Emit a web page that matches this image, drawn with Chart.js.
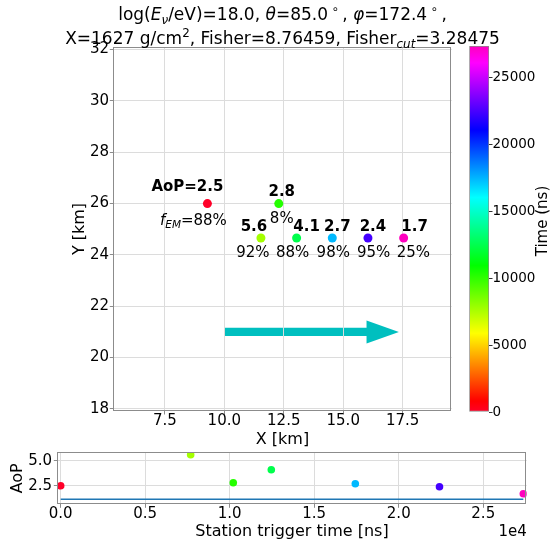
<!DOCTYPE html>
<html>
<head>
<meta charset="utf-8">
<script src="https://cdn.jsdelivr.net/npm/chart.js@4.4.0/dist/chart.umd.min.js"></script>
<style>
  html, body { margin:0; padding:0; background:#fff; }
  #wrap { position:relative; width:552px; height:545px; overflow:hidden; font-family:"DejaVu Sans", sans-serif; }
  canvas { position:absolute; left:0; top:0; }
  #title { position:absolute; left:0; top:3px; width:565px; text-align:center; font-size:17px; line-height:23.5px; color:#000; white-space:nowrap; }
  #title sub, #title sup { font-size:70%; line-height:0; }
</style>
</head>
<body>
<div id="wrap">
  <canvas id="main" width="552" height="545"></canvas>
  <canvas id="cbar" width="552" height="545"></canvas>
  <canvas id="aop" width="552" height="545"></canvas>
  <div id="title">log(<i>E</i><sub><i>ν</i></sub>/eV)=18.0, <i>θ</i>=85.0&thinsp;<sup>∘</sup>&thinsp;, <i>φ</i>=172.4&thinsp;<sup>∘</sup>&thinsp;,<br>X=1627 g/cm<sup>2</sup>, Fisher=8.76459, Fisher<sub><i>cut</i></sub>=3.28475</div>
</div>
<script>
// station data
const stationX = [9.29, 11.54, 12.29, 13.04, 14.54, 16.04, 17.54];
const stationY = [26.0, 24.66, 26.0, 24.66, 24.66, 24.66, 24.66];
const triggerTime = [0, 7690, 10210, 12460, 17430, 22410, 27370];
const aopValues = [2.5, 5.6, 2.8, 4.1, 2.7, 2.4, 1.7];
const emFraction = [88, 92, 8, 88, 98, 95, 25];
const aopThreshold = 1.15;
const arrowFrom = [10.0, 21.0];
const arrowTo = [17.34, 21.0];

const mainXTicks = [7.5, 10, 12.5, 15, 17.5];
const mainYTicks = [18, 20, 22, 24, 26, 28, 30, 32];
const colorTicks = [0, 5000, 10000, 15000, 20000, 25000];
const aopXTicks = [0, 5000, 10000, 15000, 20000, 25000];
const aopYTicks = [2.5, 5.0];

// label placement (pixel offsets of text centre from the point)
const aopLabelOffset = [[-20,-16],[-7,-10.5],[3,-11],[10,-10.5],[5,-10.5],[5,-10.5],[11,-10.5]];
const emLabelOffset = [[-14,18],[-8,15.5],[3,16],[-4,15.5],[1,15.5],[5.6,15.5],[9.7,15.5]];

const FONT = 'DejaVu Sans';
const tickFont = {family: FONT, size: 15};
const cbarFont = {family: FONT, size: 13.5};
const titleFont = {family: FONT, size: 16};
const gridColor = '#dcdcdc';
const spineColor = '#8c8c8c';

// matplotlib gist_rainbow
const rainbowStops = [
  [0.000, [255, 0, 41]], [0.030, [255, 0, 0]], [0.215, [255, 255, 0]],
  [0.400, [0, 255, 0]], [0.586, [0, 255, 255]], [0.770, [0, 0, 255]],
  [0.954, [255, 0, 255]], [1.000, [255, 0, 191]]
];
function rainbow(v) {
  v = Math.max(0, Math.min(1, v));
  for (let i = 1; i < rainbowStops.length; i++) {
    const [p1, c1] = rainbowStops[i];
    const [p0, c0] = rainbowStops[i - 1];
    if (v <= p1) {
      const f = (v - p0) / (p1 - p0);
      const c = c0.map((a, k) => Math.round(a + (c1[k] - a) * f));
      return 'rgb(' + c.join(',') + ')';
    }
  }
  return 'rgb(255,0,191)';
}
const tMin = Math.min(...triggerTime);
const tMax = Math.max(...triggerTime);
const pointColors = triggerTime.map(t => rainbow((t - tMin) / (tMax - tMin)));

const framePlugin = {
  id: 'frame',
  afterDatasetsDraw(chart) {
    const a = chart.chartArea, c = chart.ctx;
    c.save();
    c.strokeStyle = spineColor;
    c.lineWidth = 1;
    c.strokeRect(Math.round(a.left) + 0.5, Math.round(a.top) + 0.5,
      Math.round(a.right - a.left) - 1, Math.round(a.bottom - a.top) - 1);
    c.restore();
  }
};

const arrowPlugin = {
  id: 'arrow',
  beforeDraw(chart) {
    const xs = chart.scales.x, ys = chart.scales.y, c = chart.ctx;
    const x0 = xs.getPixelForValue(arrowFrom[0]);
    const x1 = xs.getPixelForValue(arrowTo[0]);
    const y0 = ys.getPixelForValue(arrowFrom[1]);
    const unitY = Math.abs(ys.getPixelForValue(1) - ys.getPixelForValue(0));
    const unitX = Math.abs(xs.getPixelForValue(1) - xs.getPixelForValue(0));
    const w = 0.32 * unitY / 2, hw = 0.9 * unitY / 2, hl = 1.36 * unitX;
    c.save();
    c.fillStyle = '#00bfbf';
    c.beginPath();
    c.moveTo(x0, y0 - w);
    c.lineTo(x1 - hl, y0 - w);
    c.lineTo(x1 - hl, y0 - hw);
    c.lineTo(x1, y0);
    c.lineTo(x1 - hl, y0 + hw);
    c.lineTo(x1 - hl, y0 + w);
    c.lineTo(x0, y0 + w);
    c.closePath();
    c.fill();
    c.restore();
  }
};

function drawRich(c, parts, cx, cy) {
  let total = 0;
  parts.forEach(p => { c.font = p.font; p.w = c.measureText(p.t).width; total += p.w; });
  let x = cx - total / 2;
  parts.forEach(p => { c.font = p.font; c.fillText(p.t, x, cy + (p.dy || 0)); x += p.w; });
}

const labelPlugin = {
  id: 'labels',
  afterDatasetsDraw(chart) {
    const xs = chart.scales.x, ys = chart.scales.y, c = chart.ctx;
    c.save();
    c.fillStyle = '#000';
    c.textBaseline = 'middle';
    c.textAlign = 'left';
    stationX.forEach((sx, i) => {
      const px = xs.getPixelForValue(sx), py = ys.getPixelForValue(stationY[i]);
      const a = aopLabelOffset[i], e = emLabelOffset[i];
      const aopText = (i === 0 ? 'AoP=' : '') + aopValues[i].toFixed(1);
      drawRich(c, [{t: aopText, font: 'bold 15px ' + FONT}], px + a[0], py + a[1]);
      if (i === 0) {
        drawRich(c, [
          {t: 'f', font: 'italic 15px ' + FONT},
          {t: 'EM', font: 'italic 10.5px ' + FONT, dy: 3.5},
          {t: '=' + emFraction[i] + '%', font: '15px ' + FONT}
        ], px + e[0], py + e[1]);
      } else {
        drawRich(c, [{t: emFraction[i] + '%', font: '15px ' + FONT}], px + e[0], py + e[1]);
      }
    });
    c.restore();
  }
};

new Chart(document.getElementById('main'), {
  type: 'scatter',
  data: {
    datasets: [{
      data: stationX.map((x, i) => ({x: x, y: stationY[i]})),
      pointBackgroundColor: pointColors,
      pointBorderWidth: 0,
      pointRadius: 4.5
    }]
  },
  options: {
    responsive: false,
    animation: false,
    devicePixelRatio: 1,
    layout: {padding: {left: 0, top: 47, right: 100.3, bottom: 94}},
    plugins: {legend: {display: false}, tooltip: {enabled: false}},
    scales: {
      x: {
        type: 'linear', min: 5.334, max: 19.56,
        afterFit(s) { s.height = 40; },
        afterBuildTicks(s) { s.ticks = mainXTicks.map(v => ({value: v})); },
        ticks: {font: tickFont, color: '#000', padding: -2.5, maxRotation: 0, callback: v => v.toFixed(1)},
        grid: {color: gridColor, tickColor: spineColor, tickLength: 3.5},
        border: {display: false},
        title: {display: true, text: 'X [km]', font: titleFont, color: '#000', padding: {top: 0, bottom: 1.6}}
      },
      y: {
        type: 'linear', min: 17.92, max: 32.1,
        afterFit(s) { s.width = 113.3; },
        afterBuildTicks(s) { s.ticks = mainYTicks.map(v => ({value: v})); },
        ticks: {font: tickFont, color: '#000', padding: 0.8, callback: v => String(v)},
        grid: {color: gridColor, tickColor: spineColor, tickLength: 3.5},
        border: {display: false},
        title: {display: true, text: 'Y [km]', font: titleFont, color: '#000', padding: {top: 70.4, bottom: 0}}
      }
    }
  },
  plugins: [arrowPlugin, framePlugin, labelPlugin]
});

const cbarLabelPlugin = {
  id: 'cbarLabel',
  afterDraw(chart) {
    const a = chart.chartArea, c = chart.ctx;
    c.save();
    c.translate(543, (a.top + a.bottom) / 2 - 8);
    c.rotate(-Math.PI / 2);
    c.fillStyle = '#000';
    c.font = '15px ' + FONT;
    c.textAlign = 'center';
    c.textBaseline = 'middle';
    c.fillText('Time (ns)', 0, 0);
    c.restore();
  }
};

new Chart(document.getElementById('cbar'), {
  type: 'bar',
  data: {
    labels: ['time'],
    datasets: [{
      data: [[tMin, tMax]],
      backgroundColor(ctx) {
        const a = ctx.chart.chartArea;
        if (!a) return null;
        const g = ctx.chart.ctx.createLinearGradient(0, a.bottom, 0, a.top);
        rainbowStops.forEach(([p, col]) => g.addColorStop(p, 'rgb(' + col.join(',') + ')'));
        return g;
      },
      borderColor: spineColor,
      borderWidth: 1,
      borderSkipped: false,
      barPercentage: 1,
      categoryPercentage: 1
    }]
  },
  options: {
    responsive: false,
    animation: false,
    devicePixelRatio: 1,
    layout: {padding: {left: 469.3, top: 46, right: 0, bottom: 133}},
    plugins: {legend: {display: false}, tooltip: {enabled: false}},
    scales: {
      x: {display: false},
      y: {
        position: 'right', min: tMin, max: tMax,
        afterFit(s) { s.width = 63; },
        afterBuildTicks(s) { s.ticks = colorTicks.map(v => ({value: v})); },
        ticks: {font: cbarFont, color: '#000', padding: 0, callback: v => String(v)},
        grid: {drawOnChartArea: false, tickColor: '#333', tickLength: 3.5},
        border: {display: false}
      }
    }
  },
  plugins: [cbarLabelPlugin]
});

const offsetTextPlugin = {
  id: 'offsetText',
  afterDraw(chart) {
    const a = chart.chartArea, c = chart.ctx;
    c.save();
    c.fillStyle = '#000';
    c.font = '15px ' + FONT;
    c.textAlign = 'right';
    c.textBaseline = 'middle';
    c.fillText('1e4', a.right, 532);
    c.restore();
  }
};

new Chart(document.getElementById('aop'), {
  type: 'scatter',
  data: {
    datasets: [
      {
        data: [{x: tMin, y: aopThreshold}, {x: tMax, y: aopThreshold}],
        showLine: true,
        borderColor: '#1f77b4',
        borderWidth: 1.5,
        pointRadius: 0
      },
      {
        data: triggerTime.map((t, i) => ({x: t, y: aopValues[i]})),
        pointBackgroundColor: pointColors,
        pointBorderWidth: 0,
        pointRadius: 3.8
      }
    ]
  },
  options: {
    responsive: false,
    animation: false,
    devicePixelRatio: 1,
    layout: {padding: {left: 0, top: 452.3, right: 25.3, bottom: 0}},
    plugins: {legend: {display: false}, tooltip: {enabled: false}},
    scales: {
      x: {
        type: 'linear', min: -200, max: 27570,
        afterFit(s) { s.height = 40.7; },
        afterBuildTicks(s) { s.ticks = aopXTicks.map(v => ({value: v})); },
        ticks: {font: tickFont, color: '#000', padding: -2.5, maxRotation: 0, callback: v => (v / 1e4).toFixed(1)},
        grid: {color: gridColor, tickColor: spineColor, tickLength: 3.5},
        border: {display: false},
        title: {display: true, text: 'Station trigger time [ns]', font: titleFont, color: '#000', padding: {top: 0, bottom: 3.9}}
      },
      y: {
        type: 'linear', min: 0.64, max: 5.84,
        afterFit(s) { s.width = 57.3; },
        afterBuildTicks(s) { s.ticks = aopYTicks.map(v => ({value: v})); },
        ticks: {font: tickFont, color: '#000', padding: 1.8, callback: v => v.toFixed(1)},
        grid: {color: gridColor, tickColor: spineColor, tickLength: 3.5},
        border: {display: false},
        title: {display: true, text: 'AoP', font: titleFont, color: '#000', padding: {top: 8, bottom: 0}}
      }
    }
  },
  plugins: [framePlugin, offsetTextPlugin]
});
</script>
</body>
</html>
